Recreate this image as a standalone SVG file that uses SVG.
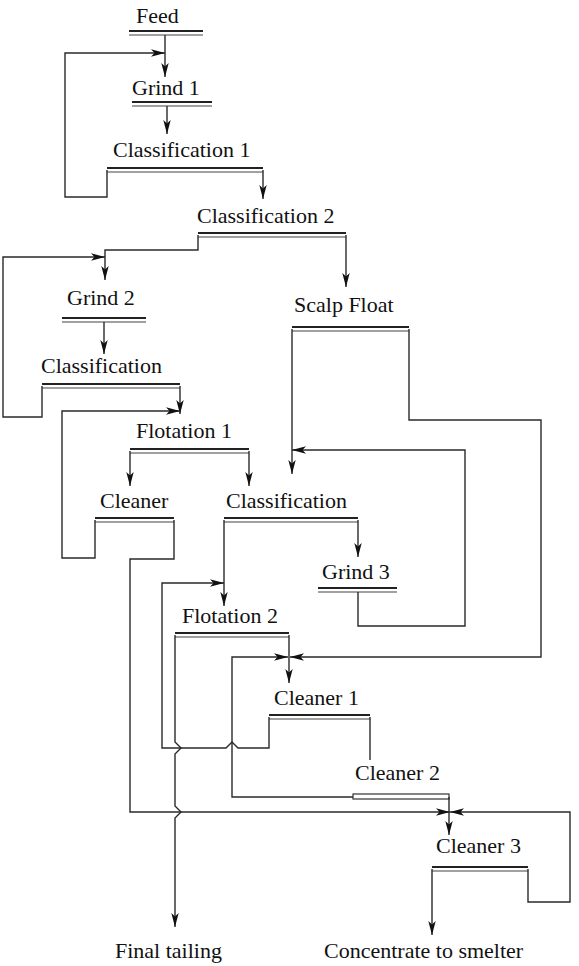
<svg xmlns="http://www.w3.org/2000/svg" width="579" height="966" viewBox="0 0 579 966">
<style>
text{font-family:"Liberation Serif","Times New Roman",serif;font-size:22px;fill:#111}
.b1{stroke:#222;stroke-width:2.2;fill:none}
.b2{stroke:#444;stroke-width:1.2;fill:none}
.c{stroke:#2a2a2a;stroke-width:1.4;fill:none;stroke-linejoin:miter}
.a{marker-end:url(#ah)}
</style>
<defs>
<marker id="ah" markerUnits="userSpaceOnUse" markerWidth="15" markerHeight="9" refX="14" refY="4.5" orient="auto">
<path d="M0,0.8 L14,4.5 L0,8.2 L3.5,4.5 Z" fill="#111"/>
</marker>
</defs>
<rect width="579" height="966" fill="#fff"/>
<g id="feed"><text x="136" y="23">Feed</text><line class="b1" x1="129" y1="31" x2="203" y2="31"/><line class="b2" x1="129" y1="35" x2="203" y2="35"/></g>
<g id="grind1"><text x="132" y="95">Grind 1</text><line class="b1" x1="132" y1="102" x2="212" y2="102"/><line class="b2" x1="132" y1="106" x2="212" y2="106"/></g>
<g id="class1"><text x="113" y="157">Classification 1</text><line class="b1" x1="107" y1="168" x2="263" y2="168"/><line class="b2" x1="107" y1="172" x2="263" y2="172"/></g>
<g id="class2"><text x="197" y="223">Classification 2</text><line class="b1" x1="198" y1="233" x2="346" y2="233"/><line class="b2" x1="198" y1="237" x2="346" y2="237"/></g>
<g id="grind2"><text x="67" y="305">Grind 2</text><line class="b1" x1="62" y1="318" x2="146" y2="318"/><line class="b2" x1="62" y1="322" x2="146" y2="322"/></g>
<g id="scalp"><text x="294" y="312">Scalp Float</text><line class="b1" x1="292" y1="327" x2="409" y2="327"/><line class="b2" x1="292" y1="331" x2="409" y2="331"/></g>
<g id="classA"><text x="41" y="373">Classification</text><line class="b1" x1="42" y1="384" x2="180" y2="384"/><line class="b2" x1="42" y1="388" x2="180" y2="388"/></g>
<g id="flot1"><text x="136" y="438">Flotation 1</text><line class="b1" x1="130" y1="449" x2="249" y2="449"/><line class="b2" x1="130" y1="453" x2="249" y2="453"/></g>
<g id="cleaner"><text x="100" y="508">Cleaner</text><line class="b1" x1="95" y1="518" x2="174" y2="518"/><line class="b2" x1="95" y1="522" x2="174" y2="522"/></g>
<g id="classB"><text x="226" y="508">Classification</text><line class="b1" x1="224" y1="518" x2="358" y2="518"/><line class="b2" x1="224" y1="522" x2="358" y2="522"/></g>
<g id="grind3"><text x="322" y="579">Grind 3</text><line class="b1" x1="318" y1="588" x2="397" y2="588"/><line class="b2" x1="318" y1="592" x2="397" y2="592"/></g>
<g id="flot2"><text x="182" y="623">Flotation 2</text><line class="b1" x1="175" y1="633" x2="289" y2="633"/><line class="b2" x1="175" y1="637" x2="289" y2="637"/></g>
<g id="cleaner1"><text x="274" y="705">Cleaner 1</text><line class="b1" x1="269" y1="715" x2="370" y2="715"/><line class="b2" x1="269" y1="719" x2="370" y2="719"/></g>
<g id="cleaner2"><text x="355" y="780">Cleaner 2</text><rect x="353" y="794" width="96" height="5" fill="none" stroke="#333" stroke-width="1.2"/></g>
<g id="cleaner3"><text x="436" y="853">Cleaner 3</text><line class="b1" x1="432" y1="867" x2="528" y2="867"/><line class="b2" x1="432" y1="871" x2="528" y2="871"/></g>
<g id="tailing"><text x="115" y="958">Final tailing</text></g>
<g id="concentrate"><text x="324" y="958">Concentrate to smelter</text></g>
<g id="connectors">
<path class="c a" d="M165,35 V77"/>
<path class="c a" d="M107,170 V197 H65 V53 H165"/>
<path class="c a" d="M167,106 V134"/>
<path class="c a" d="M263,170 V199"/>
<path class="c a" d="M198,235 V250 H105 V280"/>
<path class="c a" d="M346,235 V287"/>
<path class="c a" d="M42,386 V417 H3 V257 H105"/>
<path class="c a" d="M104,322 V354"/>
<path class="c a" d="M180,386 V414"/>
<path class="c a" d="M130,451 V486"/>
<path class="c a" d="M249,451 V486"/>
<path class="c a" d="M95,520 V558 H62 V411 H180"/>
<path class="c a" d="M174,520 V559 H130 V812 H450"/>
<path class="c a" d="M292,329 V474"/>
<path class="c a" d="M409,329 V420 H541 V657 H290"/>
<path class="c a" d="M358,592 V626 H465 V450 H292"/>
<path class="c a" d="M358,520 V557"/>
<path class="c a" d="M224,520 V606"/>
<path class="c a" d="M289,635 V683"/>
<path class="c a" d="M269,717 V748 H238 L232,742 L226,748 H162 V583 H224"/>
<path class="c a" d="M175,635 V742 L181,748 L175,754 V806 L181,812 L175,818 V927"/>
<path class="c a" d="M353,797 H232 V657 H288"/>
<path class="c" d="M370,717 V760"/>
<path class="c a" d="M449,797 V835"/>
<path class="c a" d="M528,869 V902 H570 V812 H450"/>
<path class="c a" d="M432,869 V935"/>
</g>
</svg>
